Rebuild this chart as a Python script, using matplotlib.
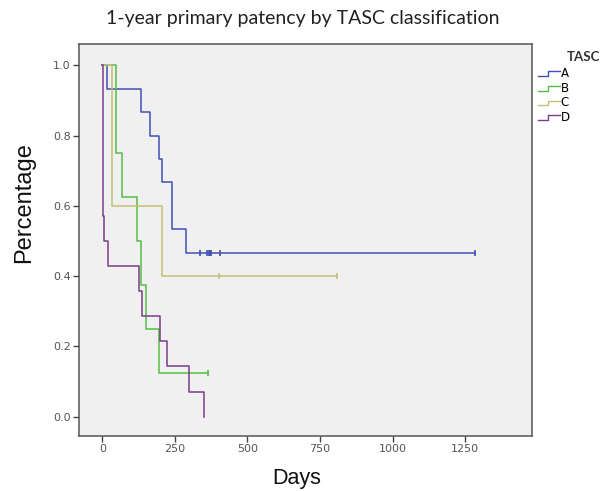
import matplotlib
matplotlib.use("Agg")
import matplotlib.pyplot as plt
from matplotlib.lines import Line2D
from matplotlib.legend_handler import HandlerBase

# Kaplan-Meier steps (days, survival)
groups = ["A", "B", "C", "D"]
colors = ["#3f50b4", "#55bd45", "#c4bf78", "#7b3c8c"]

a_days = [0, 15, 132, 163, 197, 205, 241, 287]
a_surv = [1.0, 0.933, 0.867, 0.800, 0.733, 0.667, 0.533, 0.467]
a_cens = [335, 362, 367, 372, 376, 407, 1285]

b_days = [0, 49, 69, 120, 135, 149, 197]
b_surv = [1.0, 0.750, 0.625, 0.500, 0.375, 0.250, 0.125]
b_cens = [365]

c_days = [0, 34, 206]
c_surv = [1.0, 0.600, 0.400]
c_cens = [403, 810]

d_days = [0, 1, 2, 3, 5, 19, 126, 137, 200, 223, 298, 352]
d_surv = [1.0, 0.857, 0.643, 0.571, 0.500, 0.429, 0.357, 0.286, 0.214, 0.143, 0.071, 0.0]
d_cens = []

curves = [(a_days, a_surv, a_cens), (b_days, b_surv, b_cens),
          (c_days, c_surv, c_cens), (d_days, d_surv, d_cens)]

x_ticks = [0, 250, 500, 750, 1000, 1250]
y_ticks = [0.0, 0.2, 0.4, 0.6, 0.8, 1.0]


class StepHandler(HandlerBase):
    def create_artists(self, legend, orig, xdescent, ydescent, width, height, fontsize, trans):
        x0, x1 = -xdescent, -xdescent + width
        xm = x0 + width * 0.45
        y0, y1 = -ydescent + height * 0.1, -ydescent + height * 0.7
        ln = Line2D([x0, xm, xm, x1], [y0, y0, y1, y1],
                    color=orig.get_color(), lw=1.0, transform=trans)
        return [ln]


fig = plt.figure(figsize=(6.06, 4.91), dpi=100)
ax = fig.add_axes([0.1304, 0.112, 0.7475, 0.798])
ax.set_facecolor("#f0f0f0")

handles = []
for (days, surv, cens), col in zip(curves, colors):
    end = max([days[-1]] + cens)
    xs = days + [end]
    ys = surv + [surv[-1]]
    ln, = ax.step(xs, ys, where="post", color=col, lw=1.1)
    handles.append(ln)
    if cens:
        ax.plot(cens, [surv[-1]] * len(cens), linestyle="none", marker="|",
                markersize=5, markeredgewidth=1.2, color=col)

ax.set_xlim(-80, 1480)
ax.set_ylim(-0.055, 1.06)
ax.set_xticks(x_ticks)
ax.set_yticks(y_ticks)
ax.set_yticklabels(["%.1f" % v for v in y_ticks])
ax.tick_params(axis="both", direction="out", length=4, width=1.0,
               color="#444444", labelsize=8, labelcolor="#555555", pad=2)
for sp in ax.spines.values():
    sp.set_color("#555555")
    sp.set_linewidth(1.1)

fig.text(0.5, 0.963, "1-year primary patency by TASC classification",
         ha="center", va="center", fontsize=14, family="Lato", color="#222222")
fig.text(0.040, 0.587, "Percentage", rotation=90, ha="center", va="center",
         fontsize=17, family="Liberation Sans", color="#111111")
fig.text(0.49, 0.026, "Days", ha="center", va="center",
         fontsize=15.5, family="Liberation Sans", color="#111111")

# legend title sits to the right of the entries
fig.text(0.990, 0.883, "TASC", ha="right", va="center", fontsize=9.5,
         family="Lato", fontweight="bold", color="#333333")
fig.legend(handles, groups, loc="upper left", bbox_to_anchor=(0.887, 0.864),
           frameon=False, fontsize=8.5, handler_map={Line2D: StepHandler()},
           handlelength=1.9, handletextpad=0.05, labelspacing=0.15,
           borderaxespad=0, borderpad=0)

fig.savefig("out.png", dpi=100, facecolor="white")
